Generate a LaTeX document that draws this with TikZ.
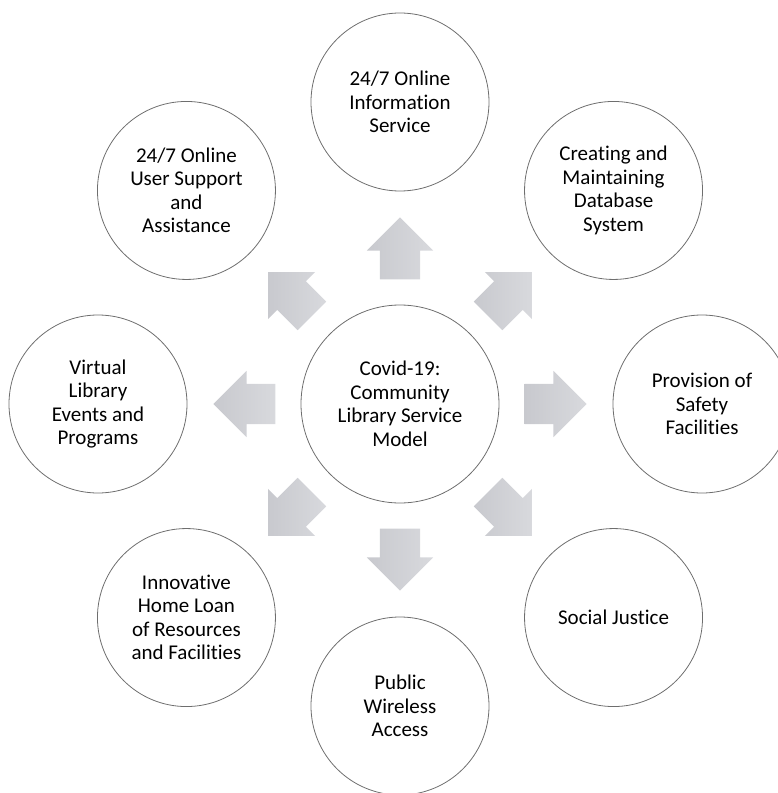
\documentclass[tikz,border=0pt]{standalone}
\usepackage{fontspec}
\setmainfont{Carlito}[Ligatures=NoCommon]
\usetikzlibrary{shapes.arrows}
\definecolor{arrowlight}{RGB}{216,217,221}
\definecolor{arrowdark}{RGB}{200,201,206}
\definecolor{ringline}{RGB}{110,110,110}

\begin{document}
\begin{tikzpicture}[x=1pt,y=1pt,
  topic/.style={circle,draw=ringline,line width=0.8pt,minimum size=178pt,inner sep=0pt,
    align=center,font=\fontsize{21}{23.5}\selectfont},
  hub/.style={topic,minimum size=198pt},
  blockarrow/.style={single arrow,draw=none,inner xsep=0pt,inner ysep=20pt,minimum height=62pt,
    minimum width=66pt,single arrow head extend=13pt,anchor=tail,
    left color=arrowdark,right color=arrowlight}]
\useasboundingbox (-400,-389) rectangle (377,404);
% centre
\node[hub] (hub) at (0,0) {Covid-19:\\Community\\Library Service\\Model};
% ring of services
\node[topic] (info) at (90:302) {24/7 Online\\Information\\Service};
\node[topic] (data) at (45:302) {Creating and\\Maintaining\\Database\\System};
\node[topic] (safety) at (0:302) {Provision of\\Safety\\Facilities};
\node[topic] (justice) at (-45:302) {Social Justice};
\node[topic] (wireless) at (-90:302) {Public\\Wireless\\Access};
\node[topic] (loan) at (-135:302) {Innovative\\Home Loan\\of Resources\\and Facilities};
\node[topic] (events) at (180:302) {Virtual\\Library\\Events and\\Programs};
\node[topic] (support) at (135:302) {24/7 Online\\User Support\\and\\Assistance};
% block arrows out of the centre
\foreach \a in {0,45,...,315}
  \node[blockarrow,rotate=\a] (arrow\a) at ([shift={(\a:25)}]hub.\a) {};
\end{tikzpicture}
\end{document}
